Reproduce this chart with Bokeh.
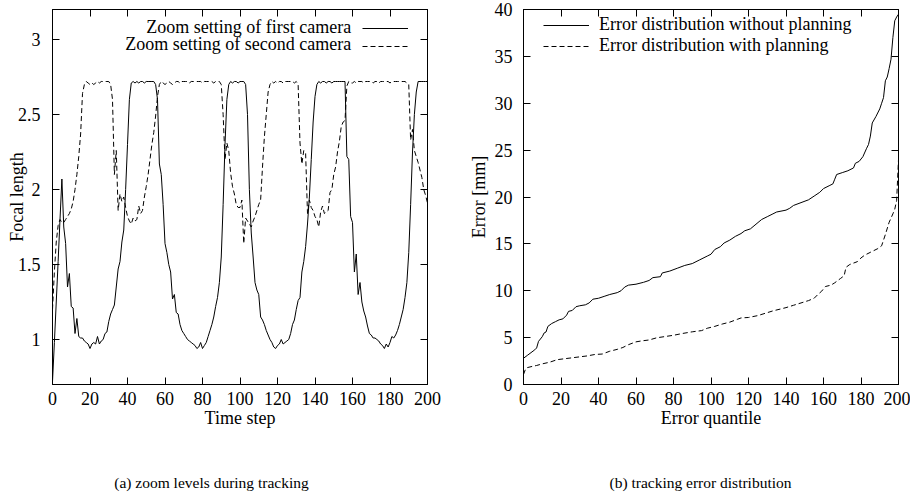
from bokeh.plotting import figure
from bokeh.models import Range1d, FixedTicker, LinearAxis, Label, Legend, LegendItem
from bokeh.layouts import row, column
from bokeh.embed import file_html
from bokeh.resources import INLINE

FONT = "Liberation Serif"

# ---------------- data: (a) zoom levels during tracking ----------------
time_step = list(range(0, 201))
zoom_first = [
    0.72, 0.98, 1.25, 1.52, 1.80, 2.07, 1.75, 1.64, 1.35, 1.44, 1.22,
    1.21, 1.04, 1.14, 1.02, 1.01, 1.01, 0.99, 0.98, 0.97, 0.94,
    0.97, 0.98, 0.97, 1.02, 0.97, 0.99, 1.00, 1.04, 1.05, 1.12,
    1.17, 1.20, 1.23, 1.35, 1.47, 1.52, 1.65, 1.73, 2.00, 2.30,
    2.60, 2.71, 2.72, 2.71, 2.72, 2.71, 2.72, 2.72, 2.71, 2.72,
    2.72, 2.72, 2.72, 2.72, 2.70, 2.60, 2.17, 2.10, 1.90, 1.64,
    1.58, 1.50, 1.45, 1.27, 1.30, 1.18, 1.17, 1.10, 1.06, 1.04,
    1.02, 1.00, 0.99, 0.98, 0.97, 0.96, 0.94, 0.95, 0.98, 0.94,
    0.96, 0.98, 1.02, 1.06, 1.10, 1.15, 1.22, 1.28, 1.38, 1.55,
    1.90, 2.30, 2.60, 2.70, 2.72, 2.71, 2.72, 2.72, 2.71, 2.72,
    2.72, 2.72, 2.70, 2.50, 2.00, 1.71, 1.55, 1.38, 1.33, 1.30,
    1.15, 1.13, 1.10, 1.06, 1.03, 1.00, 0.98, 0.95, 0.94, 0.96,
    0.97, 1.00, 0.97, 0.98, 0.99, 1.00, 1.04, 1.10, 1.13, 1.20,
    1.26, 1.28, 1.45, 1.52, 1.62, 1.77, 1.95, 2.20, 2.45, 2.62,
    2.70, 2.72, 2.71, 2.72, 2.72, 2.71, 2.72, 2.72, 2.71, 2.72,
    2.72, 2.72, 2.72, 2.72, 2.72, 2.72, 2.22, 2.20, 1.82, 1.78,
    1.45, 1.57, 1.30, 1.38, 1.25, 1.19, 1.15, 1.09, 1.04, 1.03,
    1.01, 1.01, 1.00, 0.99, 0.97, 0.96, 0.94, 0.97, 0.95, 0.98,
    1.02, 1.01, 1.03, 1.06, 1.10, 1.15, 1.20, 1.28, 1.38, 1.58,
    1.90, 2.25, 2.50, 2.65, 2.72, 2.72, 2.72, 2.72, 2.72, 2.72,
]
zoom_second = [
    1.20, 1.45, 1.65, 1.76, 1.80, 1.78, 1.78, 1.80, 1.82, 1.84, 1.87,
    1.92, 2.00, 2.10, 2.22, 2.37, 2.64, 2.70, 2.72, 2.71, 2.70,
    2.71, 2.70, 2.71, 2.72, 2.71, 2.72, 2.72, 2.72, 2.72, 2.72,
    2.70, 2.60, 2.10, 2.26, 1.86, 1.97, 1.92, 1.95, 1.88, 1.82,
    1.79, 1.77, 1.81, 1.79, 1.80, 1.89, 1.84, 1.86, 1.95, 2.02,
    2.10, 2.20, 2.30, 2.38, 2.49, 2.62, 2.70, 2.72, 2.71, 2.70,
    2.71, 2.72, 2.71, 2.70, 2.71, 2.72, 2.72, 2.71, 2.72, 2.72,
    2.72, 2.72, 2.71, 2.72, 2.72, 2.72, 2.72, 2.72, 2.72, 2.71,
    2.72, 2.72, 2.72, 2.72, 2.72, 2.71, 2.72, 2.72, 2.72, 2.70,
    2.50, 2.20, 2.31, 2.26, 2.11, 2.02, 1.97, 1.90, 1.88, 1.88,
    1.93, 1.64, 1.81, 1.79, 1.77, 1.75, 1.79, 1.82, 1.86, 1.90,
    1.93, 2.15, 2.35, 2.50, 2.65, 2.70, 2.72, 2.71, 2.72, 2.71,
    2.72, 2.72, 2.71, 2.72, 2.72, 2.72, 2.72, 2.72, 2.71, 2.72,
    2.70, 2.31, 2.17, 2.26, 2.24, 1.84, 1.93, 1.88, 1.86, 1.82,
    1.80, 1.75, 1.85, 1.89, 1.84, 1.85, 1.86, 1.98, 2.00, 2.10,
    2.15, 2.25, 2.32, 2.42, 2.45, 2.46, 2.69, 2.72, 2.71, 2.71,
    2.72, 2.71, 2.72, 2.72, 2.72, 2.71, 2.72, 2.72, 2.72, 2.72,
    2.71, 2.72, 2.72, 2.71, 2.72, 2.72, 2.72, 2.72, 2.72, 2.71,
    2.72, 2.72, 2.72, 2.72, 2.72, 2.72, 2.72, 2.72, 2.71, 2.70,
    2.33, 2.40, 2.26, 2.22, 2.18, 2.13, 2.08, 2.00, 1.96, 1.91,
]

# ---------------- data: (b) tracking error distribution ----------------
quantile_without = [0, 2, 4, 6, 7, 8, 10, 11, 12, 13, 15, 17, 19, 21, 23, 24, 26, 28, 30,
                    33, 35, 37, 40, 43, 46, 50, 52, 54, 56, 60, 64, 67, 69, 73, 74, 78,
                    82, 86, 90, 94, 98, 100, 102, 105, 107, 110, 113, 116, 118, 121, 124,
                    127, 130, 133, 135, 140, 142, 144, 148, 152, 155, 158, 160, 163, 165,
                    166, 167, 170, 173, 176, 177, 179, 181, 183, 184, 185, 186, 188, 190,
                    191, 192, 193, 194, 195, 196, 197, 198, 199, 200]
error_without = [2.8, 3.1, 3.4, 3.7, 3.9, 4.6, 5.1, 5.5, 5.6, 6.2, 6.5, 6.7, 6.9, 7.0, 7.4,
                 7.8, 7.9, 8.3, 8.4, 8.5, 8.7, 9.1, 9.2, 9.4, 9.6, 9.8, 10.0, 10.4, 10.6,
                 10.7, 10.9, 11.1, 11.4, 11.5, 11.9, 12.1, 12.4, 12.7, 12.9, 13.3, 13.7,
                 13.9, 14.4, 14.7, 15.1, 15.4, 15.8, 16.1, 16.4, 16.6, 17.1, 17.6, 17.9,
                 18.2, 18.4, 18.6, 18.8, 19.1, 19.4, 19.7, 20.1, 20.5, 20.9, 21.2, 21.4,
                 21.9, 22.4, 22.6, 22.8, 23.1, 23.6, 23.8, 24.3, 25.2, 25.6, 26.5, 27.9,
                 28.6, 29.4, 30.0, 30.6, 32.4, 32.8, 33.7, 34.7, 37.0, 38.8, 39.2, 39.5]
quantile_with = [0, 1, 2, 4, 7, 10, 14, 18, 22, 26, 30, 34, 38, 42, 46, 50, 53, 56, 60, 63,
                 67, 71, 75, 80, 85, 90, 95, 98, 102, 106, 110, 114, 116, 120, 125, 129,
                 133, 137, 140, 144, 148, 152, 155, 157, 159, 161, 164, 166, 169, 171, 172,
                 174, 178, 180, 182, 185, 189, 191, 193, 195, 197, 198, 199, 200]
error_with = [1.07, 1.6, 1.8, 1.9, 2.03, 2.2, 2.38, 2.65, 2.75, 2.85, 2.95, 3.05, 3.2, 3.25,
              3.55, 3.75, 3.95, 4.25, 4.55, 4.65, 4.75, 4.98, 5.1, 5.25, 5.45, 5.62, 5.75,
              6.0, 6.2, 6.45, 6.65, 6.95, 7.1, 7.15, 7.35, 7.6, 7.85, 8.05, 8.2, 8.45, 8.7,
              8.95, 9.2, 9.6, 9.95, 10.45, 10.6, 10.85, 11.3, 11.6, 12.5, 12.8, 13.1, 13.5,
              13.8, 14.1, 14.5, 14.8, 16.0, 17.3, 18.2, 18.7, 19.6, 24.0]

# ---------------- ticks ----------------
x_ticks = [0, 20, 40, 60, 80, 100, 120, 140, 160, 180, 200]
x_tick_labels = ["0", "20", "40", "60", "80", "100", "120", "140", "160", "180", "200"]
focal_ticks = [1, 1.5, 2, 2.5, 3]
focal_tick_labels = ["1", "1.5", "2", "2.5", "3"]
error_ticks = [0, 5, 10, 15, 20, 25, 30, 35, 40]
error_tick_labels = ["0", "5", "10", "15", "20", "25", "30", "35", "40"]

FS = "18px"
CAP_FS = "15.5px"


def style(p, yticks, ylabels, y_label_standoff, ylabel_standoff):
    p.add_layout(LinearAxis(), "above")
    p.add_layout(LinearAxis(), "right")
    for ax in p.xaxis:
        ax.ticker = FixedTicker(ticks=x_ticks)
        ax.major_label_overrides = dict(zip(x_ticks, x_tick_labels))
    for ax in p.yaxis:
        ax.ticker = FixedTicker(ticks=yticks)
        ax.major_label_overrides = dict(zip(yticks, ylabels))
    for ax in p.axis:
        ax.major_tick_in = 7
        ax.major_tick_out = 0
        ax.minor_tick_line_color = None
        ax.axis_line_color = "black"
        ax.major_tick_line_color = "black"
        ax.major_label_text_font = FONT
        ax.major_label_text_font_size = FS
        ax.major_label_text_color = "black"
        ax.axis_label_text_font = FONT
        ax.axis_label_text_font_size = FS
        ax.axis_label_text_font_style = "normal"
        ax.axis_label_text_color = "black"
    # mirrored axes: ticks only, no labels drawn
    for ax in (p.above[0], p.right[0]):
        ax.major_label_text_font_size = "1px"
        ax.major_label_text_color = None
        ax.major_label_standoff = 0
    p.below[0].major_label_standoff = 7
    p.below[0].axis_label_standoff = 0
    p.left[0].major_label_standoff = y_label_standoff
    p.left[0].axis_label_standoff = ylabel_standoff
    p.xgrid.visible = False
    p.ygrid.visible = False
    p.outline_line_color = "black"
    p.background_fill_color = "white"
    p.border_fill_color = "white"


def legend_row(p, label, renderer, x, y, standoff, label_width=None):
    kw = dict(items=[LegendItem(label=label, renderers=[renderer])],
              location=(x, y), glyph_width=46, glyph_height=18, label_height=18,
              label_standoff=standoff, spacing=0, padding=0, margin=0,
              background_fill_alpha=0, border_line_color=None,
              label_text_font=FONT, label_text_font_size=FS, label_text_color="black")
    if label_width is not None:
        kw["label_width"] = label_width
    p.add_layout(Legend(**kw), "center")


# ---------------- (a) ----------------
p1 = figure(frame_width=375, frame_height=375, min_border_left=52, min_border_right=38,
            min_border_top=9, min_border_bottom=56,
            x_range=Range1d(0, 200), y_range=Range1d(0.7, 3.2),
            toolbar_location=None, output_backend="svg",
            x_axis_label="Time step", y_axis_label="Focal length")
r1 = p1.line(time_step, zoom_first, line_color="black", line_width=1)
r2 = p1.line(time_step, zoom_second, line_color="black", line_width=1, line_dash="5 3")
style(p1, focal_ticks, focal_tick_labels, 12, -12)

legend_row(p1, " ", r1, 310, 347, 0, 0)
legend_row(p1, " ", r2, 310, 329, 0, 0)
p1.add_layout(Label(x=159.3, y=3.085, text="Zoom setting of first camera", text_align="right",
                    text_baseline="middle", text_font=FONT, text_font_size=FS, text_color="black"))
p1.add_layout(Label(x=159.3, y=2.967, text="Zoom setting of second camera", text_align="right",
                    text_baseline="middle", text_font=FONT, text_font_size=FS, text_color="black"))

# ---------------- (b) ----------------
p2 = figure(frame_width=375, frame_height=375, min_border_left=57, min_border_right=12,
            min_border_top=9, min_border_bottom=56,
            x_range=Range1d(0, 200), y_range=Range1d(0, 40),
            toolbar_location=None, output_backend="svg",
            x_axis_label="Error quantile", y_axis_label="Error [mm]")
s1 = p2.line(quantile_without, error_without, line_color="black", line_width=1)
s2 = p2.line(quantile_with, error_with, line_color="black", line_width=1, line_dash="5 3")
style(p2, error_ticks, error_tick_labels, 11, 3)

legend_row(p2, "Error distribution without planning", s1, 20, 349, 10)
legend_row(p2, "Error distribution with planning", s2, 20, 328, 10)

# ---------------- captions strip ----------------
CAP_W, CAP_H = 52 + 375 + 38 + 57 + 375 + 12, 55
p3 = figure(width=CAP_W, height=CAP_H, x_range=Range1d(0, CAP_W), y_range=Range1d(0, CAP_H),
            x_axis_type=None, y_axis_type=None, min_border=0,
            toolbar_location=None, output_backend="svg")
p3.outline_line_color = None
p3.xgrid.visible = False
p3.ygrid.visible = False
p3.add_layout(Label(x=211, y=13, text="(a) zoom levels during tracking", text_align="center",
                    text_baseline="middle", text_font=FONT, text_font_size=CAP_FS, text_color="black"))
p3.add_layout(Label(x=700, y=13, text="(b) tracking error distribution", text_align="center",
                    text_baseline="middle", text_font=FONT, text_font_size=CAP_FS, text_color="black"))

layout = column(row(p1, p2), p3)
open("out.html", "w").write(file_html(layout, INLINE))
